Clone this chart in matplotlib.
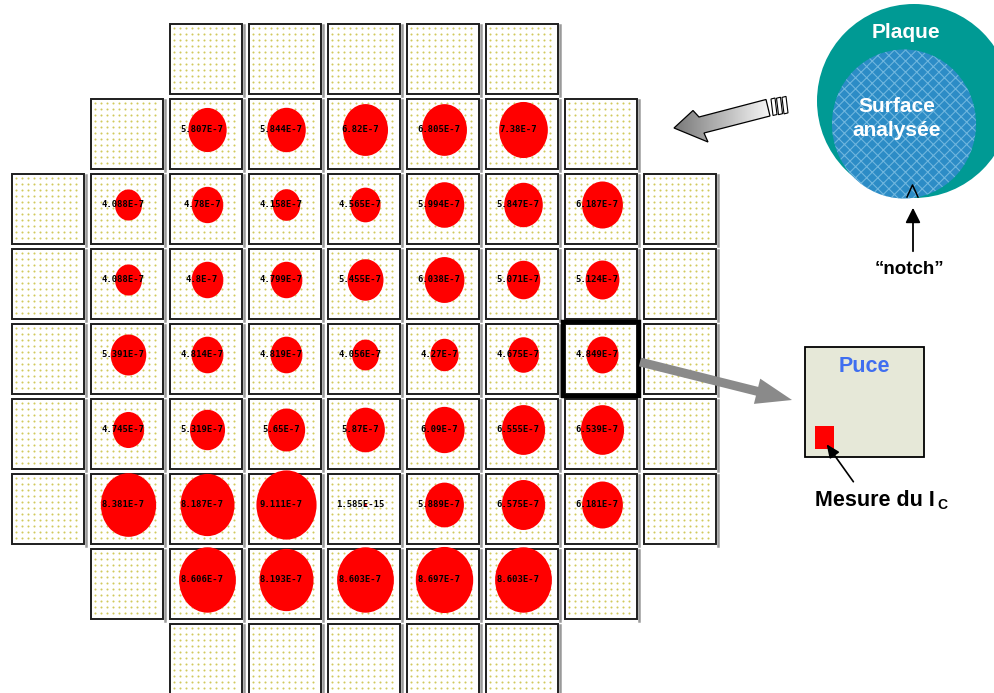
import numpy as np
import matplotlib
matplotlib.use("Agg")
import matplotlib.pyplot as plt
from matplotlib.patches import Rectangle, Ellipse, Polygon, FancyArrow

# ---------------- data ----------------
# wafer map: each row lists first and last column of the die grid
row_spans = [(2, 6), (1, 7), (0, 8), (0, 8), (0, 8), (0, 8), (0, 8), (1, 7), (2, 6)]
# measured dies: row index -> first measured column
measured_first_col = {1: 2, 2: 1, 3: 1, 4: 1, 5: 1, 6: 1, 7: 2}
# Ic values (A)
row1_vals = [5.807e-7, 5.844e-7, 6.82e-7, 6.805e-7, 7.38e-7]
row2_vals = [4.088e-7, 4.78e-7, 4.158e-7, 4.565e-7, 5.994e-7, 5.847e-7, 6.187e-7]
row3_vals = [4.088e-7, 4.80e-7, 4.799e-7, 5.455e-7, 6.038e-7, 5.071e-7, 5.124e-7]
row4_vals = [5.391e-7, 4.814e-7, 4.819e-7, 4.056e-7, 4.27e-7, 4.675e-7, 4.849e-7]
row5_vals = [4.745e-7, 5.319e-7, 5.65e-7, 5.87e-7, 6.090e-7, 6.555e-7, 6.539e-7]
row6_vals = [8.381e-7, 8.187e-7, 9.111e-7, 1.585e-15, 5.889e-7, 6.575e-7, 6.181e-7]
row7_vals = [8.606e-7, 8.193e-7, 8.603e-7, 8.697e-7, 8.603e-7]
values = {1: row1_vals, 2: row2_vals, 3: row3_vals, 4: row4_vals,
          5: row5_vals, 6: row6_vals, 7: row7_vals}
highlight_cell = (4, 7)

# ---------------- layout ----------------
X0, Y0, PX, PY, CW, CH = 12, 24, 79, 75, 72, 70
W_PER_UNIT, H_PER_UNIT = 6.6, 7.6   # px of marker per 1e-7 A


def fmt(v):
    e = int(np.floor(np.log10(v)))
    m = v / 10 ** e
    s = f"{m:.3f}".rstrip("0").rstrip(".")
    return f"{s}E{e}"


fig = plt.figure(figsize=(9.94, 6.93), dpi=100)
ax = fig.add_axes([0, 0, 1, 1])
ax.set_xlim(0, 994)
ax.set_ylim(693, 0)
ax.axis("off")

dot_off = np.arange(4, 70, 6.0)
dx, dy = np.meshgrid(dot_off, np.arange(4, 68, 6.0))
dx, dy = dx.ravel(), dy.ravel()

for r, (c0, c1) in enumerate(row_spans):
    for c in range(c0, c1 + 1):
        x, y = X0 + c * PX, Y0 + r * PY
        ax.add_patch(Rectangle((x, y), CW, CH, facecolor="white",
                               edgecolor="#1e1e1e", lw=1.4, zorder=1))
        ax.plot([x + CW + 1.5, x + CW + 1.5], [y + 1, y + CH + 1.5],
                color="#9a9a9a", lw=1.8, zorder=1)
        ax.scatter(x + dx, y + dy, s=2.2, color="#d2c95c", lw=0, zorder=2)

for r, vals in values.items():
    cf = measured_first_col[r]
    for i, v in enumerate(vals):
        c = cf + i
        cx, cy = X0 + c * PX + CW / 2, Y0 + r * PY + CH / 2
        u = v / 1e-7
        w = max(u * W_PER_UNIT, 2.5)
        h = max(u * H_PER_UNIT, 4)
        ax.add_patch(Ellipse((cx + 1.5, cy - 4), w, h, facecolor="#ff0000",
                             edgecolor="none", zorder=3))
        ax.text(cx - 4, cy - 4.5, fmt(v), ha="center", va="center",
                fontsize=6.4, family="DejaVu Sans Mono", fontweight="bold",
                color="black", zorder=4)

hr, hc = highlight_cell
ax.add_patch(Rectangle((X0 + hc * PX - 2, Y0 + hr * PY - 2), CW + 4, CH + 4,
                       facecolor="none", edgecolor="black", lw=3.2, zorder=5))

# gray arrow from highlighted die to chip
ax.add_patch(FancyArrow(640, 362, 792 - 640, 400 - 362, width=9,
                        head_width=26, head_length=36,
                        length_includes_head=True, facecolor="#8a8a8a",
                        edgecolor="none", zorder=6))

# 3D-like gradient arrow pointing to the wafer map
arrow_pts = [(674, 128), (693, 110.5), (699, 117), (766, 99.5),
             (770, 116), (704, 133), (708, 142)]
poly = Polygon(arrow_pts, closed=True, facecolor="none", edgecolor="black",
               lw=0.9, zorder=7)
ax.add_patch(poly)
grad = np.linspace(0, 1, 256)[None, :]
im = ax.imshow(grad, extent=(672, 772, 145, 98), cmap=plt.cm.gray,
               vmin=-0.9, vmax=1.05, aspect="auto", zorder=6,
               interpolation="bilinear")
im.set_clip_path(poly)
for k in range(3):
    xs = 771 + k * 5.5
    ax.add_patch(Polygon([(xs, 99 - k * 0.8), (xs + 4, 98 - k * 0.8),
                          (xs + 6, 114.5 - k * 0.8), (xs + 2, 115.5 - k * 0.8)],
                         closed=True, facecolor="white", edgecolor="black",
                         lw=0.8, zorder=7))

# wafer sketch
ax.add_patch(Ellipse((914, 101), 194, 194, facecolor="#009a94",
                     edgecolor="none", zorder=2))
plt.rcParams["hatch.linewidth"] = 0.8
ax.add_patch(Ellipse((904, 124), 144, 149, facecolor="#2c8cc6",
                     edgecolor="#6fb6de", hatch="xxx", lw=0, zorder=3))
ax.plot([907, 912.5, 918], [197, 185, 197], color="black", lw=1.1, zorder=4)
ax.annotate("", xy=(913, 205), xytext=(913, 254),
            arrowprops=dict(arrowstyle="-|>,head_width=0.45,head_length=0.9",
                            color="black", lw=1.3), zorder=4)
ax.text(906, 33, "Plaque", ha="center", va="center", color="white",
        fontsize=15, fontweight="bold", family="Liberation Sans", zorder=5)
ax.text(897, 106, "Surface", ha="center", va="center", color="white",
        fontsize=15, fontweight="bold", family="Liberation Sans", zorder=5)
ax.text(897, 131, "analysée", ha="center", va="center", color="white",
        fontsize=15, fontweight="bold", family="Liberation Sans", zorder=5)
ax.text(909, 269, "\u201cnotch\u201d", ha="center", va="center", color="black",
        fontsize=13.5, fontweight="bold", family="Liberation Sans", zorder=5)

# chip sketch
ax.add_patch(Rectangle((805, 347), 119, 110, facecolor="#e6e8d8",
                       edgecolor="black", lw=1.3, zorder=2))
ax.text(864, 367, "Puce", ha="center", va="center", color="#3f6ef0",
        fontsize=15.5, fontweight="bold", family="Liberation Sans", zorder=3)
ax.add_patch(Rectangle((815, 426), 19, 23, facecolor="#ff0000",
                       edgecolor="none", zorder=3))
ax.annotate("", xy=(825, 442), xytext=(855, 484),
            arrowprops=dict(arrowstyle="-|>,head_width=0.35,head_length=0.8",
                            color="black", lw=1.2), zorder=4)
ax.text(815, 500, "Mesure du I", ha="left", va="center", color="black",
        fontsize=15.5, fontweight="bold", family="Liberation Sans", zorder=3)
ax.text(937, 505, "C", ha="left", va="center", color="black",
        fontsize=10, fontweight="bold", family="Liberation Sans", zorder=3)

fig.savefig("out.png", dpi=100)
